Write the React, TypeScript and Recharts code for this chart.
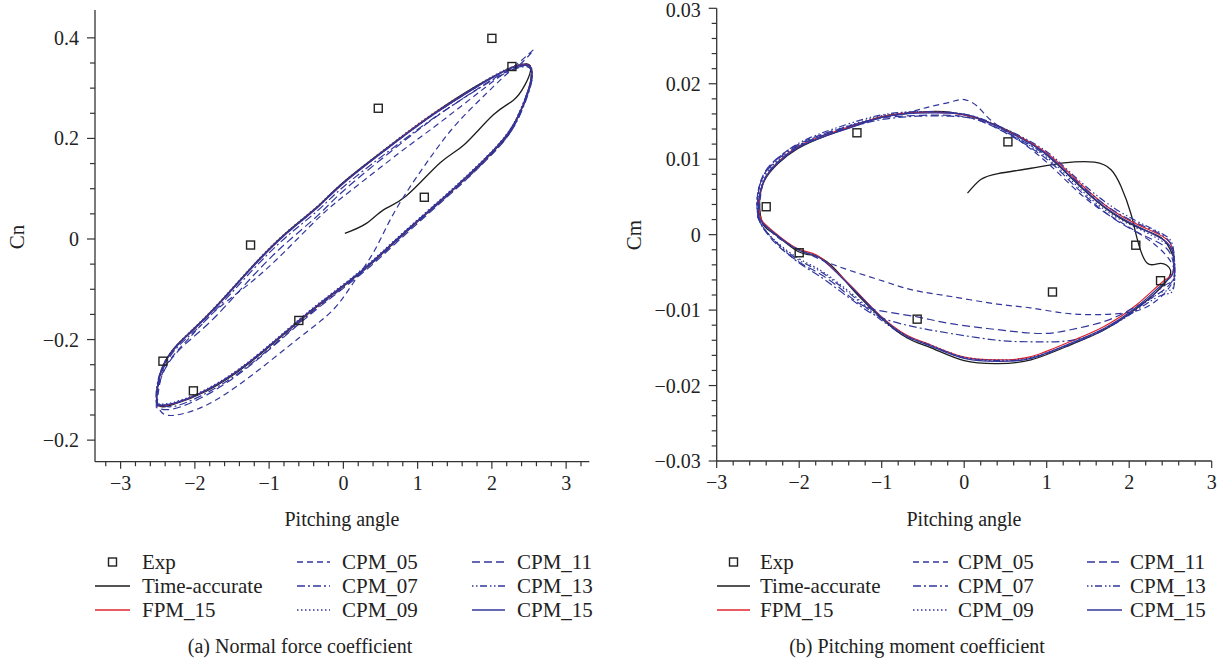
import { ComposedChart, Line, Scatter, XAxis, YAxis } from 'recharts';

type P = [number, number];

// ---- (a) normal force coefficient, Cn vs pitching angle ----
const cnExp: P[] = [[-2.43, -0.243], [-2.02, -0.302], [-1.25, -0.012], [-0.6, -0.162], [0.47, 0.26], [1.09, 0.083], [2.0, 0.399], [2.27, 0.343]];

const cnTime: P[] = [
  [0.02, 0.011], [0.31, 0.031], [0.54, 0.058], [0.85, 0.086], [1.3, 0.151], [1.63, 0.188], [2.02, 0.247], [2.29, 0.276], [2.44, 0.305], [2.52, 0.334],
  [2.47, 0.348], [2.3, 0.343], [2.2, 0.337], [1.8, 0.305], [1.21, 0.249], [0.63, 0.186], [0.0, 0.113], [-0.36, 0.063], [-0.81, 0.007], [-1.26, -0.06],
  [-1.71, -0.133], [-2.02, -0.179], [-2.25, -0.212], [-2.43, -0.252], [-2.51, -0.3], [-2.49, -0.331], [-2.29, -0.329], [-1.84, -0.302], [-1.26, -0.246],
  [-0.59, -0.163], [-0.14, -0.11], [0.31, -0.057], [0.76, 0.003], [1.21, 0.062], [1.66, 0.122], [2.07, 0.182], [2.33, 0.235], [2.5, 0.3], [2.53, 0.328],
];
const cnFpm15: P[] = [
  [-2.5, -0.332], [-2.51, -0.302], [-2.42, -0.252], [-2.24, -0.212], [-2.01, -0.179], [-1.7, -0.133], [-1.25, -0.06], [-0.8, 0.007], [-0.35, 0.063], [0.01, 0.112],
  [0.64, 0.186], [1.22, 0.249], [1.81, 0.304], [2.21, 0.337], [2.47, 0.347], [2.54, 0.334], [2.5, 0.301], [2.32, 0.235], [2.06, 0.182], [1.65, 0.122],
  [1.2, 0.062], [0.75, 0.003], [0.3, -0.057], [-0.15, -0.11], [-0.6, -0.163], [-1.27, -0.245], [-1.85, -0.301], [-2.3, -0.328], [-2.5, -0.332],
];
const cnCpm05: P[] = [
  [-2.51, -0.33], [-2.47, -0.285], [-2.34, -0.241], [-2.02, -0.188], [-1.71, -0.141], [-1.26, -0.088], [-0.81, -0.028], [-0.32, 0.044], [0.09, 0.095], [0.76, 0.172],
  [1.17, 0.217], [1.62, 0.268], [2.06, 0.318], [2.35, 0.349], [2.56, 0.376], [2.4, 0.35], [2.24, 0.333], [1.93, 0.29], [1.53, 0.23], [1.21, 0.17],
  [0.9, 0.104], [0.63, 0.038], [0.4, -0.028], [0.13, -0.088], [-0.14, -0.141], [-0.59, -0.196], [-1.26, -0.274], [-1.84, -0.33], [-2.25, -0.35], [-2.43, -0.347], [-2.51, -0.33],
];
const cnCpm07: P[] = [
  [-2.52, -0.325], [-2.5, -0.298], [-2.42, -0.256], [-2.24, -0.216], [-2.01, -0.184], [-1.7, -0.138], [-1.25, -0.066], [-0.8, 0.0], [-0.35, 0.056], [0.01, 0.105],
  [0.64, 0.178], [1.22, 0.241], [1.81, 0.298], [2.2, 0.331], [2.46, 0.343], [2.54, 0.33], [2.51, 0.298], [2.33, 0.232], [2.07, 0.18], [1.66, 0.12],
  [1.21, 0.061], [0.76, 0.002], [0.31, -0.058], [-0.14, -0.112], [-0.59, -0.166], [-1.26, -0.25], [-1.84, -0.306], [-2.29, -0.333], [-2.52, -0.325],
];
const cnCpm09: P[] = [
  [-2.5, -0.328], [-2.51, -0.298], [-2.43, -0.252], [-2.25, -0.212], [-2.02, -0.178], [-1.71, -0.132], [-1.26, -0.059], [-0.81, 0.008], [-0.36, 0.064], [0.0, 0.113],
  [0.63, 0.187], [1.21, 0.25], [1.8, 0.305], [2.2, 0.338], [2.47, 0.348], [2.54, 0.335], [2.51, 0.306], [2.33, 0.24], [2.07, 0.186], [1.66, 0.126],
  [1.21, 0.066], [0.76, 0.007], [0.31, -0.053], [-0.14, -0.106], [-0.59, -0.159], [-1.26, -0.242], [-1.84, -0.298], [-2.29, -0.325], [-2.5, -0.328],
];
const cnCpm11: P[] = [
  [-2.52, -0.335], [-2.5, -0.3], [-2.4, -0.258], [-2.22, -0.222], [-1.99, -0.191], [-1.68, -0.148], [-1.24, -0.077], [-0.8, -0.012], [-0.35, 0.046], [0.01, 0.097],
  [0.64, 0.174], [1.22, 0.24], [1.8, 0.298], [2.2, 0.333], [2.46, 0.344], [2.54, 0.331], [2.51, 0.3], [2.33, 0.233], [2.07, 0.179], [1.66, 0.119],
  [1.21, 0.059], [0.76, -0.001], [0.31, -0.061], [-0.14, -0.114], [-0.59, -0.168], [-1.26, -0.252], [-1.84, -0.31], [-2.29, -0.338], [-2.52, -0.335],
];
const cnCpm13: P[] = [
  [-2.51, -0.331], [-2.52, -0.302], [-2.44, -0.255], [-2.26, -0.215], [-2.03, -0.182], [-1.72, -0.136], [-1.27, -0.063], [-0.82, 0.004], [-0.37, 0.06], [-0.01, 0.11],
  [0.62, 0.183], [1.2, 0.246], [1.79, 0.302], [2.19, 0.335], [2.46, 0.345], [2.53, 0.332], [2.5, 0.302], [2.32, 0.236], [2.06, 0.183], [1.65, 0.123],
  [1.2, 0.063], [0.75, 0.004], [0.3, -0.056], [-0.15, -0.109], [-0.6, -0.162], [-1.27, -0.245], [-1.85, -0.301], [-2.3, -0.328], [-2.51, -0.331],
];
const cnCpm15: P[] = [
  [-2.51, -0.33], [-2.51, -0.3], [-2.43, -0.254], [-2.25, -0.214], [-2.02, -0.181], [-1.71, -0.135], [-1.26, -0.062], [-0.81, 0.005], [-0.36, 0.061], [0.0, 0.111],
  [0.63, 0.184], [1.21, 0.247], [1.8, 0.303], [2.2, 0.336], [2.47, 0.346], [2.54, 0.333], [2.51, 0.303], [2.33, 0.237], [2.07, 0.184], [1.66, 0.124],
  [1.21, 0.064], [0.76, 0.005], [0.31, -0.055], [-0.14, -0.108], [-0.59, -0.161], [-1.26, -0.244], [-1.84, -0.3], [-2.29, -0.327], [-2.51, -0.33],
];

// ---- (b) pitching moment coefficient, Cm vs pitching angle ----
const cmExp: P[] = [[-2.4, 0.0037], [-2.0, -0.0024], [-1.3, 0.0135], [-0.57, -0.0112], [0.53, 0.0123], [1.07, -0.0076], [2.08, -0.0014], [2.38, -0.0061]];

const cmTime: P[] = [
  [0.04, 0.0055], [0.2, 0.0073], [0.41, 0.0081], [0.81, 0.0088], [1.21, 0.0095], [1.58, 0.0096], [1.78, 0.0086], [1.9, 0.0064], [2.02, 0.0028], [2.1, -0.0007],
  [2.22, -0.0038], [2.38, -0.0038], [2.5, -0.0047], [2.42, -0.0066], [2.1, -0.0097], [1.7, -0.0126], [1.29, -0.0146], [0.81, -0.0166], [0.41, -0.0171], [0.0, -0.0167],
  [-0.4, -0.015], [-0.69, -0.0137], [-1.01, -0.011], [-1.29, -0.008], [-1.45, -0.006], [-1.62, -0.004], [-1.8, -0.0028], [-2.02, -0.0022], [-2.3, 0.0001], [-2.44, 0.0014],
  [-2.48, 0.0045], [-2.42, 0.0072], [-2.26, 0.0094], [-2.02, 0.0114], [-1.7, 0.013], [-1.29, 0.0146], [-0.97, 0.0157], [-0.57, 0.0162], [-0.16, 0.0162], [0.41, 0.0144],
  [0.93, 0.0112], [1.29, 0.0076], [1.7, 0.0036], [2.1, 0.001], [2.4, -0.0005], [2.53, -0.0028],
];
const cmFpm15: P[] = [
  [-2.48, 0.0026], [-2.48, 0.0048], [-2.41, 0.0075], [-2.25, 0.0097], [-2.01, 0.0117], [-1.69, 0.0132], [-1.28, 0.0147], [-0.96, 0.0157], [-0.56, 0.0162], [-0.15, 0.0161],
  [0.11, 0.0156], [0.42, 0.0143], [0.94, 0.0113], [1.3, 0.0079], [1.71, 0.0039], [2.11, 0.0013], [2.43, -0.0004], [2.53, -0.0023], [2.53, -0.005], [2.41, -0.0062],
  [2.09, -0.0093], [1.69, -0.0122], [1.28, -0.0142], [0.8, -0.0162], [0.4, -0.0166], [-0.01, -0.0162], [-0.41, -0.0146], [-0.7, -0.0133], [-1.02, -0.0107], [-1.3, -0.0076],
  [-1.55, -0.0049], [-1.79, -0.0027], [-2.03, -0.0018], [-2.31, 0.0004], [-2.44, 0.0017], [-2.48, 0.0026],
];
const cmCpm05: P[] = [
  [-2.49, 0.002], [-2.47, 0.005], [-2.4, 0.0078], [-2.22, 0.01], [-1.95, 0.012], [-1.6, 0.0136], [-1.2, 0.015], [-0.8, 0.0159], [-0.57, 0.0165], [-0.4, 0.017],
  [-0.16, 0.0176], [0.0, 0.0179], [0.16, 0.017], [0.32, 0.0152], [0.6, 0.013], [1.01, 0.0095], [1.45, 0.005], [1.86, 0.0019], [2.25, -0.0008], [2.5, -0.0035],
  [2.53, -0.0062], [2.3, -0.009], [2.0, -0.0103], [1.6, -0.0106], [1.21, -0.0104], [0.8, -0.0097], [0.4, -0.0092], [-0.16, -0.0082], [-0.6, -0.0074], [-0.97, -0.0062],
  [-1.53, -0.0042], [-1.9, -0.0025], [-2.2, -0.0008], [-2.4, 0.001], [-2.49, 0.002],
];
const cmCpm07: P[] = [
  [-2.5, 0.0025], [-2.51, 0.0048], [-2.44, 0.0076], [-2.27, 0.0099], [-2.03, 0.0117], [-1.7, 0.0132], [-1.3, 0.0145], [-0.97, 0.0153], [-0.57, 0.0157], [-0.16, 0.0157],
  [0.1, 0.0154], [0.41, 0.0141], [0.93, 0.011], [1.29, 0.0078], [1.7, 0.004], [2.1, 0.0015], [2.42, -0.0002], [2.54, -0.0025], [2.54, -0.0058], [2.42, -0.0068],
  [2.1, -0.0098], [1.7, -0.0125], [1.4, -0.0138], [1.1, -0.0142], [0.81, -0.0142], [0.41, -0.014], [-0.16, -0.0131], [-0.57, -0.0123], [-1.01, -0.011], [-1.29, -0.0092],
  [-1.54, -0.0072], [-1.78, -0.0053], [-2.02, -0.0036], [-2.3, -0.0008], [-2.45, 0.0012], [-2.5, 0.0025],
];
const cmCpm09: P[] = [
  [-2.5, 0.0023], [-2.5, 0.0047], [-2.43, 0.0075], [-2.27, 0.0097], [-2.03, 0.0117], [-1.71, 0.0133], [-1.3, 0.0148], [-0.98, 0.0158], [-0.58, 0.0163], [-0.17, 0.0162],
  [0.09, 0.0157], [0.4, 0.0142], [0.92, 0.0109], [1.28, 0.0074], [1.69, 0.0034], [2.09, 0.0009], [2.42, -0.001], [2.54, -0.003], [2.54, -0.0068], [2.4, -0.0076],
  [2.08, -0.0099], [1.68, -0.0126], [1.28, -0.0145], [0.8, -0.0163], [0.4, -0.0166], [-0.01, -0.0162], [-0.41, -0.0146], [-0.7, -0.0134], [-1.02, -0.011], [-1.3, -0.0084],
  [-1.55, -0.0062], [-1.79, -0.0044], [-2.03, -0.003], [-2.31, -0.0006], [-2.45, 0.0012], [-2.5, 0.0023],
];
const cmCpm11: P[] = [
  [-2.5, 0.0022], [-2.5, 0.005], [-2.44, 0.0078], [-2.28, 0.01], [-2.04, 0.0118], [-1.72, 0.0133], [-1.3, 0.0147], [-0.97, 0.0155], [-0.57, 0.0158], [-0.16, 0.0158],
  [0.1, 0.0154], [0.41, 0.014], [0.93, 0.0106], [1.29, 0.007], [1.7, 0.003], [2.1, 0.0003], [2.42, -0.0015], [2.53, -0.0035], [2.53, -0.006], [2.3, -0.0082],
  [2.0, -0.01], [1.7, -0.0115], [1.29, -0.0126], [0.93, -0.0131], [0.41, -0.0126], [-0.16, -0.0118], [-0.57, -0.0109], [-1.01, -0.0101], [-1.29, -0.009], [-1.54, -0.0068],
  [-1.78, -0.005], [-2.02, -0.0035], [-2.3, -0.001], [-2.45, 0.0012], [-2.5, 0.0022],
];
const cmCpm13: P[] = [
  [-2.5, 0.0024], [-2.51, 0.0049], [-2.44, 0.0077], [-2.28, 0.0099], [-2.04, 0.0119], [-1.72, 0.0135], [-1.31, 0.015], [-0.99, 0.0159], [-0.59, 0.0163], [-0.18, 0.0162],
  [0.08, 0.0158], [0.4, 0.0145], [0.92, 0.0116], [1.28, 0.0083], [1.69, 0.0045], [2.09, 0.0018], [2.42, 0.0], [2.54, -0.0022], [2.54, -0.007], [2.4, -0.008],
  [2.08, -0.0101], [1.68, -0.0127], [1.28, -0.0146], [0.8, -0.0164], [0.4, -0.0167], [-0.01, -0.0163], [-0.41, -0.0147], [-0.7, -0.0135], [-1.02, -0.0112], [-1.3, -0.0086],
  [-1.55, -0.0064], [-1.79, -0.0046], [-2.03, -0.0032], [-2.31, -0.0007], [-2.45, 0.0011], [-2.5, 0.0024],
];
const cmCpm15: P[] = [
  [-2.49, 0.0024], [-2.49, 0.0046], [-2.42, 0.0073], [-2.26, 0.0095], [-2.02, 0.0115], [-1.7, 0.013], [-1.29, 0.0145], [-0.97, 0.0156], [-0.57, 0.0161], [-0.16, 0.0161],
  [0.1, 0.0157], [0.41, 0.0143], [0.93, 0.0112], [1.29, 0.0077], [1.7, 0.0037], [2.1, 0.0011], [2.42, -0.0007], [2.53, -0.0025], [2.53, -0.0051], [2.42, -0.0064],
  [2.1, -0.0095], [1.7, -0.0124], [1.29, -0.0144], [0.81, -0.0164], [0.41, -0.0168], [0.0, -0.0164], [-0.4, -0.0148], [-0.69, -0.0135], [-1.01, -0.0109], [-1.29, -0.0078],
  [-1.54, -0.0051], [-1.78, -0.0029], [-2.02, -0.002], [-2.3, 0.0002], [-2.44, 0.0015], [-2.49, 0.0024],
];

// axis ticks / labels
const cnYMajor = [-0.4, -0.2, 0, 0.2, 0.4];
const cnYLabels = ['\u22120.2', '\u22120.2', '0', '0.2', '0.4']; // as printed in the figure
const cmYMajor = [-0.03, -0.02, -0.01, 0, 0.01, 0.02, 0.03];
const cmYLabels = ['\u22120.03', '\u22120.02', '\u22120.01', '0', '0.01', '0.02', '0.03'];

const SERIES_NAMES = ['Time-accurate', 'FPM_15', 'CPM_05', 'CPM_07', 'CPM_09', 'CPM_11', 'CPM_13', 'CPM_15'];

const BLUE = '#31369c';
const RED = '#e2242a';
const BLACK = '#1d1d1d';
const AXIS = '#333';
const FONT = "'Liberation Serif', 'DejaVu Serif', serif";

const STYLE: Record<string, { color: string; dash?: string; w: number }> = {
  'Time-accurate': { color: BLACK, w: 1.3 },
  FPM_15: { color: RED, w: 1.2 },
  CPM_05: { color: BLUE, dash: '6 4', w: 1.2 },
  CPM_07: { color: BLUE, dash: '8 3 2 3', w: 1.2 },
  CPM_09: { color: BLUE, dash: '1.5 2.5', w: 1.2 },
  CPM_11: { color: BLUE, dash: '8 4', w: 1.2 },
  CPM_13: { color: BLUE, dash: '1.5 2.5 1.5 2.5 7 3', w: 1.2 },
  CPM_15: { color: BLUE, w: 1.3 },
};

const pts = (a: P[]) => a.map(([x, y]) => ({ x, y }));
const steps = (from: number, step: number, n: number) => Array.from({ length: n }, (_, i) => +(from + i * step).toFixed(5));
const minus = (v: number) => (v < 0 ? '\u2212' + Math.abs(v) : String(v));

const makeXTick = () => (props: any) => {
  const { x, y, payload } = props;
  const v = payload.value;
  const major = Math.abs(v - Math.round(v)) < 1e-6;
  return (
    <g>
      <line x1={x} x2={x} y1={y} y2={y + (major ? 7 : 4.5)} stroke={AXIS} strokeWidth={1.2} />
      {major && (
        <text x={x} y={y + 21} textAnchor="middle" dominantBaseline="central" fontSize={20} fontFamily={FONT} fill="#222">
          {minus(Math.round(v))}
        </text>
      )}
    </g>
  );
};

const makeYTick = (majors: number[], labels: string[]) => (props: any) => {
  const { x, y, payload } = props;
  const v = payload.value;
  const idx = majors.findIndex((m) => Math.abs(m - v) < 1e-7);
  const major = idx >= 0;
  // keep the top label inside the page edge
  const ty = Math.max(y, 20);
  return (
    <g>
      <line x1={x} x2={x - (major ? 8 : 5)} y1={y} y2={y} stroke={AXIS} strokeWidth={1.2} />
      {major && (
        <text x={x - 16} y={ty} textAnchor="end" dominantBaseline="central" fontSize={20} fontFamily={FONT} fill="#222">
          {labels[idx]}
        </text>
      )}
    </g>
  );
};

const ExpSquare = (p: any) => <rect x={p.cx - 4} y={p.cy - 4} width={8} height={8} fill="none" stroke="#222" strokeWidth={1.4} />;

interface PanelProps {
  width: number;
  height: number;
  margin: { top: number; right: number; left: number; bottom: number };
  yAxisWidth: number;
  xAxisHeight: number;
  xDomain: [number, number];
  yDomain: [number, number];
  xTicks: number[];
  yTicks: number[];
  yTick: (p: any) => any;
  series: P[][];
  exp: P[];
}

function Panel(p: PanelProps) {
  return (
    <ComposedChart width={p.width} height={p.height} margin={p.margin}>
      <XAxis
        type="number" dataKey="x" domain={p.xDomain} ticks={p.xTicks} interval={0} allowDataOverflow
        height={p.xAxisHeight} tickSize={0} tickMargin={0} tickLine={false}
        axisLine={{ stroke: AXIS, strokeWidth: 1.3 }} tick={makeXTick()}
      />
      <YAxis
        type="number" dataKey="y" domain={p.yDomain} ticks={p.yTicks} interval={0} allowDataOverflow
        width={p.yAxisWidth} tickSize={0} tickMargin={0} tickLine={false}
        axisLine={{ stroke: AXIS, strokeWidth: 1.3 }} tick={p.yTick}
      />
      {p.series.map((s, i) => {
        const st = STYLE[SERIES_NAMES[i]];
        return (
          <Line
            key={SERIES_NAMES[i]} data={pts(s)} dataKey="y" name={SERIES_NAMES[i]} type="natural"
            stroke={st.color} strokeWidth={st.w} strokeDasharray={st.dash} dot={false} activeDot={false}
            isAnimationActive={false}
          />
        );
      })}
      <Scatter data={pts(p.exp)} dataKey="y" name="Exp" shape={ExpSquare} isAnimationActive={false} />
    </ComposedChart>
  );
}

const LEGEND_ORDER = ['Exp', 'Time-accurate', 'FPM_15', 'CPM_05', 'CPM_07', 'CPM_09', 'CPM_11', 'CPM_13', 'CPM_15'];
const ROWS_Y = [562, 586, 610];

function LegendBlock({ cols }: { cols: { x1: number; x2: number; tx: number }[] }) {
  return (
    <g>
      {LEGEND_ORDER.map((name, i) => {
        const c = cols[Math.floor(i / 3)];
        const y = ROWS_Y[i % 3];
        const st = STYLE[name];
        return (
          <g key={name}>
            {name === 'Exp' ? (
              <rect x={(c.x1 + c.x2) / 2 - 4} y={y - 4} width={8} height={8} fill="none" stroke="#222" strokeWidth={1.4} />
            ) : (
              <line x1={c.x1} x2={c.x2} y1={y} y2={y} stroke={st.color} strokeWidth={1.3} strokeDasharray={st.dash} />
            )}
            <text x={c.tx} y={y} dominantBaseline="central" fontSize={21} fontFamily={FONT} fill="#222">{name}</text>
          </g>
        );
      })}
    </g>
  );
}

export default function App() {
  const leftSeries = [cnTime, cnFpm15, cnCpm05, cnCpm07, cnCpm09, cnCpm11, cnCpm13, cnCpm15];
  const rightSeries = [cmTime, cmFpm15, cmCpm05, cmCpm07, cmCpm09, cmCpm11, cmCpm13, cmCpm15];
  return (
    <div style={{ position: 'absolute', left: 0, top: 0, width: 1230, height: 664, background: '#fff', overflow: 'hidden', fontFamily: FONT }}>
      <div style={{ position: 'absolute', left: 0, top: 0 }}>
        <Panel
          width={600} height={500} margin={{ top: 10, right: 10.7, left: 0, bottom: 0 }}
          yAxisWidth={95} xAxisHeight={38.3}
          xDomain={[-3.345, 3.312]} yDomain={[-0.4429, 0.4554]}
          xTicks={steps(-3.2, 0.2, 33)} yTicks={steps(-0.4, 0.05, 17)}
          yTick={makeYTick(cnYMajor, cnYLabels)}
          series={leftSeries} exp={cnExp}
        />
      </div>
      <div style={{ position: 'absolute', left: 620, top: -10 }}>
        <Panel
          width={600} height={510} margin={{ top: 18.3, right: 8.3, left: 0, bottom: 0 }}
          yAxisWidth={96.7} xAxisHeight={39}
          xDomain={[-3, 3]} yDomain={[-0.03, 0.03]}
          xTicks={steps(-3, 0.2, 31)} yTicks={steps(-0.03, 0.002, 31)}
          yTick={makeYTick(cmYMajor, cmYLabels)}
          series={rightSeries} exp={cmExp}
        />
      </div>
      <svg width={1230} height={664} style={{ position: 'absolute', left: 0, top: 0, pointerEvents: 'none' }}>
        <text x={17} y={237} transform="rotate(-90 17 237)" textAnchor="middle" dominantBaseline="central" fontSize={21} fontFamily={FONT} fill="#222">Cn</text>
        <text x={634} y={235} transform="rotate(-90 634 235)" textAnchor="middle" dominantBaseline="central" fontSize={21} fontFamily={FONT} fill="#222">Cm</text>
        <text x={342} y={519} textAnchor="middle" dominantBaseline="central" fontSize={20} fontFamily={FONT} fill="#222">Pitching angle</text>
        <text x={964} y={519} textAnchor="middle" dominantBaseline="central" fontSize={20} fontFamily={FONT} fill="#222">Pitching angle</text>
        <LegendBlock cols={[{ x1: 95, x2: 130, tx: 142 }, { x1: 297, x2: 330, tx: 342 }, { x1: 472, x2: 505, tx: 517 }]} />
        <LegendBlock cols={[{ x1: 717, x2: 750, tx: 760 }, { x1: 913, x2: 948, tx: 958 }, { x1: 1087, x2: 1122, tx: 1130 }]} />
        <text x={300} y={646} textAnchor="middle" dominantBaseline="central" fontSize={20} fontFamily={FONT} fill="#222">(a) Normal force coefficient</text>
        <text x={917} y={646} textAnchor="middle" dominantBaseline="central" fontSize={20} fontFamily={FONT} fill="#222">(b) Pitching moment coefficient</text>
      </svg>
    </div>
  );
}
